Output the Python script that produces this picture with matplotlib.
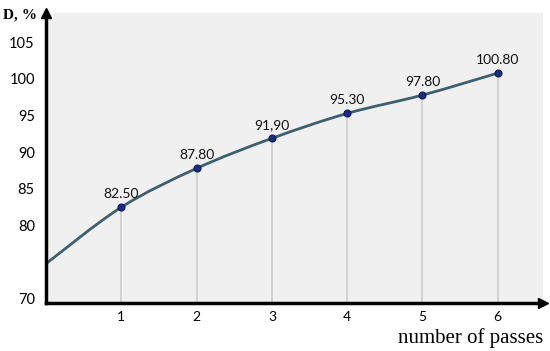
import matplotlib.pyplot as plt
import numpy as np
from matplotlib.path import Path
from matplotlib.patches import PathPatch

passes = [1, 2, 3, 4, 5, 6]
density = [82.50, 87.80, 91.90, 95.30, 97.80, 100.80]
labels = ["82.50", "87.80", "91,90", "95.30", "97.80", "100.80"]
start_x, start_y = 0, 74.8
y_ticks = [70, 80, 85, 90, 95, 100, 105]

fig = plt.figure(figsize=(5.5, 3.51), dpi=100)
ax = fig.add_axes([0.0836, 0.137, 0.9036, 0.826])
ax.set_facecolor("#f0f0f0")
ax.set_xlim(0, 6.6)
ax.set_ylim(69.45, 109.0)

# drop lines
for x, y in zip(passes, density):
    ax.plot([x, x], [69.45, y], color="#d2d2d2", lw=1.4, zorder=1)

# smooth curve (catmull-rom -> bezier)
xs = np.array([start_x] + passes, dtype=float)
ys = np.array([start_y] + density, dtype=float)
pts = np.column_stack([xs, ys])
verts = [pts[0]]
codes = [Path.MOVETO]
for i in range(len(pts) - 1):
    p0 = pts[i - 1] if i > 0 else pts[i]
    p1, p2 = pts[i], pts[i + 1]
    p3 = pts[i + 2] if i + 2 < len(pts) else pts[i + 1]
    verts += [p1 + (p2 - p0) / 6, p2 - (p3 - p1) / 6, p2]
    codes += [Path.CURVE4] * 3
ax.add_patch(PathPatch(Path(verts, codes), fill=False, edgecolor="#3d6070", lw=2, zorder=2))

ax.plot(passes, density, "o", ms=5, color="#1c2a8a", mec="#0d1650", mew=0.8, zorder=3)
for x, y, t in zip(passes, density, labels):
    ax.annotate(t, (x, y), xytext=(0, 5), textcoords="offset points", ha="center",
                va="bottom", fontsize=10, family="Lato", color="#111111")

ax.set_xticks(passes)
ax.set_xticklabels([str(p) for p in passes], family="Lato", fontsize=10)
ax.set_yticks(y_ticks)
ax.set_yticklabels([str(t) for t in y_ticks], family="Lato", fontsize=10.5)
ax.tick_params(axis="y", length=0, pad=8)
ax.tick_params(axis="x", length=0, pad=6)
for s in ["top", "right"]:
    ax.spines[s].set_visible(False)
for s in ["left", "bottom"]:
    ax.spines[s].set_linewidth(2.5)
    ax.spines[s].set_color("black")

# axis arrows
ax.plot(1, 69.45, ">", ms=7, color="black", transform=ax.get_yaxis_transform(), clip_on=False)
ax.plot(0, 1, "^", ms=7, color="black", transform=ax.get_xaxis_transform(), clip_on=False)

fig.text(0.005, 0.975, "D, %", family="Liberation Serif", fontweight="bold", fontsize=11, va="top")
fig.text(0.987, 0.022, "number of passes", family="Liberation Serif", fontsize=15, ha="right", va="baseline")

fig.savefig("out.png", dpi=100)
